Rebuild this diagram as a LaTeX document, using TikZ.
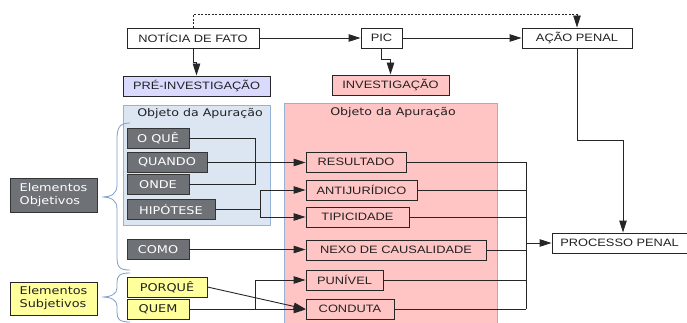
\documentclass[tikz,border=0pt]{standalone}
\usepackage{fontspec}
\setmainfont[FakeStretch=1.2]{Liberation Sans}
\newfontfamily\dvfont[FakeStretch=1.2]{DejaVu Sans}
\usetikzlibrary{arrows.meta}
\definecolor{linec}{HTML}{262626}
\definecolor{txtc}{HTML}{222222}
\definecolor{grayf}{HTML}{6E7176}
\definecolor{grayb}{HTML}{353535}
\definecolor{yelf}{HTML}{FFFF9C}
\definecolor{lavf}{HTML}{DADAFF}
\definecolor{pinkf}{HTML}{FFC4C4}
\definecolor{bluef}{HTML}{DCE6F2}
\definecolor{blueb}{HTML}{95B3D7}
\definecolor{bracec}{HTML}{7E9CCB}
\begin{document}
\begin{tikzpicture}[x=1pt,y=-1pt,
  font=\fontsize{10.7}{13}\selectfont,
  bx/.style={draw=linec, line width=0.9pt, inner sep=0pt, text=txtc, minimum height=20},
  wbox/.style={bx, fill=white},
  pbox/.style={bx, fill=pinkf},
  gbox/.style={bx, draw=grayb, fill=grayf, text=white, font=\dvfont\fontsize{10.7}{13}\selectfont},
  ybox/.style={bx, fill=yelf, font=\dvfont\fontsize{10.7}{13}\selectfont},
  ln/.style={draw=linec, line width=0.9pt},
  arr/.style={ln, -{Triangle[length=12pt,width=7.5pt]}},
  brc/.style={draw=bracec, line width=0.8pt},
  lbl/.style={inner sep=0pt, text=txtc, font=\dvfont\fontsize{10.5}{13}\selectfont}]
\useasboundingbox (0,0) rectangle (687,323);

% background areas
\path[fill=bluef, draw=blueb, line width=0.8pt] (123,105) rectangle (270,225);
\path[fill=pinkf, draw=blueb, line width=0.8pt] (284,103) rectangle (497,330);
\node[lbl] (lblb) at (200,114) {Objeto da Apuração};
\node[lbl] (lblp) at (393,113) {Objeto da Apuração};

% top row
\node[wbox, minimum width=132] (nf) at (193,38) {NOTÍCIA DE FATO};
\node[wbox, minimum width=41] (pic) at (381.5,38) {PIC};
\node[wbox, minimum width=110] (acao) at (577,38) {AÇÃO PENAL};
\node[bx, fill=lavf, minimum width=147] (pre) at (196.5,86) {PRÉ-INVESTIGAÇÃO};
\node[bx, fill=pinkf, minimum width=117] (inv) at (390.5,85) {INVESTIGAÇÃO};

% left elements
\node[gbox, minimum width=62] (oque) at (158,138) {O QUÊ};
\node[gbox, minimum width=80] (quando) at (167,162.5) {QUANDO};
\node[gbox, minimum width=62] (onde) at (158,184.5) {ONDE};
\node[gbox, minimum width=88] (hip) at (171,209.5) {HIPÓTESE};
\node[gbox, minimum width=62] (como) at (158,249.5) {COMO};
\node[ybox, minimum width=80] (porque) at (167,287) {PORQUÊ};
\node[ybox, minimum width=62] (quem) at (158,309.5) {QUEM};
\node[gbox, minimum width=87, minimum height=34, align=left] (eobj) at (53.5,195) {Elementos\\Objetivos};
\node[ybox, minimum width=87, minimum height=33, align=left] (esub) at (53.5,298.5) {Elementos\\Subjetivos};

% right elements
\node[pbox, minimum width=100] (res) at (356,162) {RESULTADO};
\node[pbox, minimum width=111] (anti) at (361.5,190) {ANTIJURÍDICO};
\node[pbox, minimum width=103] (tip) at (357.5,217) {TIPICIDADE};
\node[pbox, minimum width=180] (nexo) at (396,250) {NEXO DE CAUSALIDADE};
\node[pbox, minimum width=77] (pun) at (344.5,280) {PUNÍVEL};
\node[pbox, minimum width=88] (cond) at (350,309) {CONDUTA};
\node[wbox, minimum width=135] (proc) at (619.5,243) {PROCESSO PENAL};

% braces
\draw[brc] (130,123) .. controls (119,123) and (117,128) .. (117,140) -- (117,185)
  .. controls (117,194) and (111,197) .. (102,197)
  .. controls (111,197) and (117,200) .. (117,209) -- (117,256)
  .. controls (117,267) and (119,270) .. (130,270);
\draw[brc] (130,273) .. controls (119,273) and (117,276) .. (117,283) -- (117,288)
  .. controls (117,294) and (111,297) .. (102,297)
  .. controls (111,297) and (117,300) .. (117,306) -- (117,312)
  .. controls (117,319) and (119,322) .. (130,322);

% top connectors
\draw[arr] (nf.east) -- (pic.west);
\draw[arr] (pic.east) -- (acao.west);
\draw[arr] (nf.south) -- ++(0,14) -| (pre.north);
\draw[arr] (pic.south) -- ++(0,11) -| (inv.north);
\draw[arr, dashed, dash pattern=on 2pt off 1.5pt, line width=0.7pt] (nf.north) -- ++(0,-13) -| (acao.north);
\draw[arr] (acao.south) -- ++(0,92) -| ([xshift=3.5pt]proc.north);

% left to right connectors
\draw[ln] (oque.east) -- ++(66,0) |- (onde.east);
\draw[arr] (quando.east) -- (quando.east -| res.west);
\draw[ln] (hip.east) -- ++(45,0) coordinate (hj);
\draw[arr] (hj) |- (anti.west);
\draw[arr] (hj) |- (tip.west);
\draw[arr] (como.east) -- (como.east -| nexo.west);
\draw[arr] (porque.east) -- (cond.west);
\draw[arr] (quem.east) -- (quem.east -| cond.west);
\draw[arr] (quem.east) -- ++(66,0) |- (pun.west);

% bus to processo penal
\coordinate (busx) at (526,0);
\draw[ln] (res.east) -- (res.east -| busx);
\draw[ln] (anti.east) -- (anti.east -| busx);
\draw[ln] (tip.east) -- (tip.east -| busx);
\draw[ln] (nexo.east) -- (nexo.east -| busx);
\draw[ln] (pun.east) -- (pun.east -| busx);
\draw[ln] (cond.east) -- (cond.east -| busx);
\draw[ln] (res.east -| busx) -- (cond.east -| busx);
\draw[arr] (proc.west -| busx) -- (proc.west);
\end{tikzpicture}
\end{document}
